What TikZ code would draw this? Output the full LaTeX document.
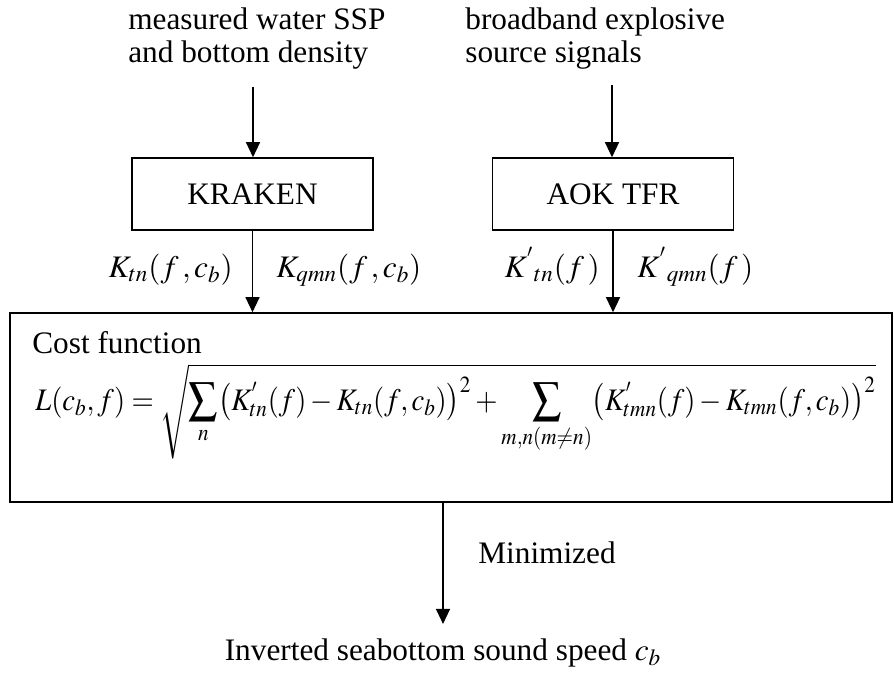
\documentclass[tikz,border=0pt]{standalone}
\usepackage{amsmath}
\usepackage{graphicx}
\usepackage{mathptmx}
\usepackage{fontspec}
\setmainfont{Liberation Serif}
\usepackage{tikz}
\usetikzlibrary{arrows.meta}
\newcommand{\fsz}{\fontsize{17.8}{18.8}\selectfont}
\newcommand{\kterm}[1]{\bigl(K^{'}_{#1}(f)-K_{#1}(f,c_b)\bigr)^{2}}

\begin{document}
\begin{tikzpicture}[
    txt/.style={inner sep=0pt, font=\fsz},
    box/.style={draw, line width=0.9pt, minimum width=4.82cm, minimum height=1.44cm, font=\fsz},
    arr/.style={line width=0.7pt, -{Triangle[length=0.3cm,width=0.28cm]}}]
  \useasboundingbox (0,0) rectangle (17.88,-13.66);
  % inputs
  \node[txt, align=left, anchor=north west] (ssp) at (2.56,-0.14) {measured water SSP\\and bottom density};
  \node[txt, align=left, anchor=north west] (sig) at (9.30,-0.14) {broadband explosive\\source signals};
  \coordinate (in1) at (5.06,-1.74);
  \coordinate (in2) at (12.24,-1.70);
  % blocks
  \node[box] (kraken) at (5.05,-3.88) {KRAKEN};
  \node[box] (aok) at (12.26,-3.88) {AOK TFR};
  \node[draw, line width=0.9pt, minimum width=17.64cm, minimum height=3.78cm] (cost) at (9.02,-8.15) {};
  \draw[arr] (in1) -- (in1 |- kraken.north);
  \draw[arr] (in2) -- (in2 |- aok.north);
  \draw[arr] (kraken.south) -- (kraken.south |- cost.north);
  \draw[arr] (aok.south) -- (aok.south |- cost.north);
  % labels
  \node[txt, anchor=base east] (ktn) at (4.66,-5.54) {$K_{tn}(f\,,c_b)$};
  \node[txt, anchor=base west] (kqmn) at (5.52,-5.54) {$K_{qmn}(f\,,c_b)$};
  \node[txt, anchor=base east] (ptn) at (12.00,-5.54) {$K^{'}{}_{tn}(f\,)$};
  \node[txt, anchor=base west] (pqmn) at (12.74,-5.54) {$K^{'}{}_{qmn}(f\,)$};
  % cost function
  \node[txt, anchor=base west] (title) at (0.64,-7.06) {Cost function};
  \node[txt, anchor=base west] (eq) at (0.70,-8.20)
    {\scalebox{0.915}[1]{$\displaystyle L(c_b,f)=\sqrt{\sum_{n}\kterm{tn}+\sum_{m,n(m\neq n)}\kterm{tmn}}$}};
  % output
  \node[txt, anchor=base] (res) at (8.86,-13.20) {Inverted seabottom sound speed $c_b$};
  \node[txt, anchor=base west] (mini) at (9.56,-11.26) {Minimized};
  \draw[arr] (res.north |- cost.south) -- ([yshift=0.28cm]res.north);
\end{tikzpicture}
\end{document}
